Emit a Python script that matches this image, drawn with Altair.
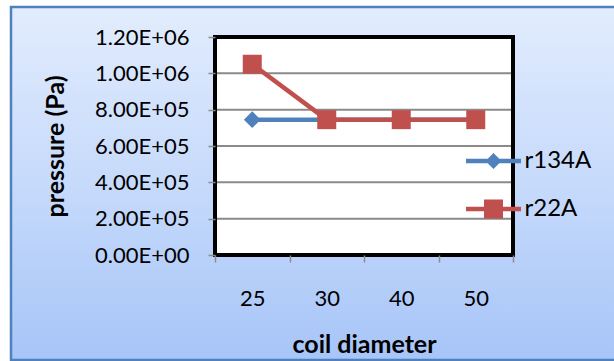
import json
import altair as alt
import pandas as pd

# ---------------- data ----------------
diameters = ["25", "30", "40", "50"]
series_names = ["r134A", "r22A"]
r134a_pressure = [745000, 745000, 745000, 745000]
r22a_pressure = [1050000, 745000, 745000, 745000]
y_ticks = [0, 200000, 400000, 600000, 800000, 1000000, 1200000]
y_tick_labels = ["0.00E+00", "2.00E+05", "4.00E+05", "6.00E+05",
                 "8.00E+05", "1.00E+06", "1.20E+06"]
series_colors = ["#4F81BD", "#C0504D"]
series_shapes = ["diamond", "square"]
marker_sizes = [280, 361]

rows = []
for d, v in zip(diameters, r134a_pressure):
    rows.append({"diameter": d, "pressure": v, "series": series_names[0]})
for d, v in zip(diameters, r22a_pressure):
    rows.append({"diameter": d, "pressure": v, "series": series_names[1]})
df = pd.DataFrame(rows)
grid_df = pd.DataFrame({"pressure": y_ticks})
one_row = pd.DataFrame({"k": [0]})

FONT = "Lato"
W, H = 298, 218

x_scale = alt.Scale(type="band", domain=diameters, paddingInner=0, paddingOuter=0)
y_scale = alt.Scale(domain=[y_ticks[0], y_ticks[-1]], nice=False)
color_scale = alt.Scale(domain=series_names, range=series_colors)

# legend symbols: a line with the series marker on it (unit box = symbol size)
legend_paths = [
    "M-1.146,-0.094H1.146V0.094H-1.146Z M0,-0.333L0.333,0L0,0.333L-0.333,0Z",
    "M-1.146,-0.094H1.146V0.094H-1.146Z M-0.396,-0.396H0.396V0.396H-0.396Z",
]
shape_scale = alt.Scale(domain=series_names, range=legend_paths)

label_expr = f"{json.dumps(y_tick_labels)}[round(datum.value / {y_ticks[1]})]"

x_axis = alt.Axis(
    title="coil diameter", tickBand="extent", labelAngle=0, tickSize=7,
    tickColor="#8c8c8c", tickWidth=1.5, labelPadding=26, labelFontSize=22,
    domain=False, grid=False, titleFontSize=25, titleFontWeight="bold",
    titleX=W / 2, titleY=97, titleBaseline="alphabetic", zindex=2,
)
y_axis = alt.Axis(
    title="pressure (Pa)", values=y_ticks, labelExpr=label_expr, tickSize=7,
    tickColor="#8c8c8c", tickWidth=1.5, labelPadding=19, labelFontSize=22,
    domain=False, grid=False, titleFontSize=25, titleFontWeight="bold",
    titleX=-160, titleY=H / 2, titleBaseline="middle", titleAngle=-90,
    titleAlign="center", zindex=2,
)

x_enc = alt.X("diameter:O", scale=x_scale, sort=diameters, bandPosition=0.5, axis=x_axis)
y_enc = alt.Y("pressure:Q", scale=y_scale, axis=y_axis)

# decorative frame with gradient
bg = alt.Chart(one_row).mark_rect(
    fill=alt.Gradient(
        gradient="linear",
        stops=[alt.GradientStop(color="#e2ecfd", offset=0),
               alt.GradientStop(color="#c6dafb", offset=0.5),
               alt.GradientStop(color="#a7c5f8", offset=1)],
        x1=0, x2=0, y1=0, y2=1,
    ),
    stroke="#4f81bd", strokeWidth=2.5,
).encode(x=alt.value(-204), x2=alt.value(410), y=alt.value(-30), y2=alt.value(323))

plot_bg = alt.Chart(one_row).mark_rect(fill="white").encode(
    x=alt.value(0), x2=alt.value("width"), y=alt.value(0), y2=alt.value("height"))

grid = alt.Chart(grid_df).mark_rule(color="#8a8a8a", strokeWidth=2).encode(y=y_enc)


def series_line(i):
    return alt.Chart(df).transform_filter(
        alt.datum.series == series_names[i]
    ).mark_line(strokeWidth=4.5, color=series_colors[i]).encode(x=x_enc, y=y_enc)


def series_points(i):
    return alt.Chart(df).transform_filter(
        alt.datum.series == series_names[i]
    ).mark_point(shape=series_shapes[i], filled=True, opacity=1,
                 size=marker_sizes[i], color=series_colors[i]).encode(x=x_enc, y=y_enc)


legend_layer = alt.Chart(df).transform_filter("false").mark_point(
    filled=True, opacity=1
).encode(
    x=x_enc, y=y_enc,
    color=alt.Color("series:N", scale=color_scale, title=None),
    shape=alt.Shape("series:N", scale=shape_scale, title=None),
)

border = alt.Chart(one_row).mark_rect(
    fillOpacity=0, stroke="black", strokeWidth=4
).encode(x=alt.value(0), x2=alt.value("width"), y=alt.value(0), y2=alt.value("height"))

chart = alt.layer(
    bg, plot_bg, grid,
    series_line(0), series_line(1), series_points(0), series_points(1),
    legend_layer, border
).properties(
    width=W, height=H,
    padding={"left": 215, "top": 37, "right": 101, "bottom": 106},
    autosize=alt.AutoSizeParams(type="none"),
    background="white",
).configure_view(
    stroke=None
).configure_axis(
    labelFont=FONT, titleFont=FONT, labelColor="black", titleColor="black"
).configure_legend(
    orient="none", legendX=254.5, legendY=100, symbolSize=2304,
    symbolStrokeWidth=0, labelFont=FONT, labelFontSize=24, labelColor="black",
    labelOffset=7, rowPadding=12, padding=0,
)

chart.save("out.html", embed_options={"renderer": "svg", "actions": False})
